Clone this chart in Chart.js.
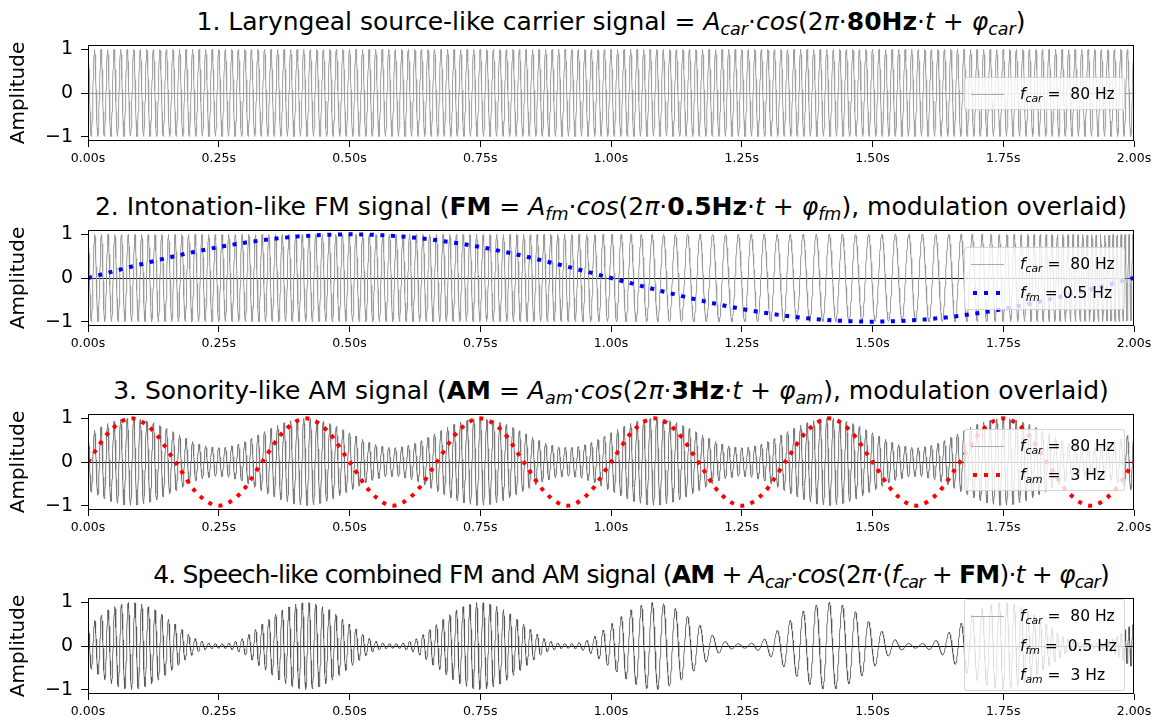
<!DOCTYPE html>
<html>
<head>
<meta charset="utf-8">
<script src="https://cdn.jsdelivr.net/npm/chart.js@4.4.1/dist/chart.umd.min.js"></script>
<style>
  body { margin: 0; background: #fff; font-family: "DejaVu Sans", sans-serif; }
  #fig { position: relative; width: 1157px; height: 724px; overflow: hidden; }
  .panel { position: absolute; left: 0; }
  .title { position: absolute; left: 40px; width: 1142px; height: 30px; line-height: 30px;
           text-align: center; font-size: 25px; color: #000; white-space: nowrap; }
  .title.tight { letter-spacing: -0.8px; left: 60px; }
  .title sub, .legend sub { font-size: 70%; vertical-align: -0.3em; line-height: 0; }
  .legend { position: absolute; left: 964px; width: 161px; background: rgba(255,255,255,0.8);
            border: 1px solid rgba(204,204,204,0.8); border-radius: 3px; box-sizing: border-box; }
  .row { position: absolute; left: 0; height: 22px; line-height: 22px; font-size: 15.5px; color: #000; white-space: nowrap; }
  .row .txt { position: absolute; left: 55px; }
  .handle { position: absolute; left: 6px; top: 11px; width: 33px; }
  .h-line { border-top: 1px solid #aaa; }
  .h-dots { height: 4px; top: 9px; left: 8px; width: 30px; }
</style>
</head>
<body>
<div id="fig"></div>
<script>
// ---- data ----
const xTickValues = [0, 0.25, 0.5, 0.75, 1, 1.25, 1.5, 1.75, 2];
const xTickLabels = ['0.00s', '0.25s', '0.50s', '0.75s', '1.00s', '1.25s', '1.50s', '1.75s', '2.00s'];
const yTickValues = [-1, 0, 1];
const yTickLabels = ['\u22121', '0', '1'];

const carrierHz = 80;   // f_car (legend)
const fmHz = 0.5;       // f_fm (legend)
const amHz = 3;         // f_am (legend)

// frequency of the FM carrier (panels 2 and 4), read from the cycle spacing
const fmCarTimes = [0, 0.5, 0.9, 1.0, 1.1, 1.2, 1.45, 1.65, 1.75, 1.85, 1.95, 2.0];
const fmCarHz = [78, 78, 76, 58, 45, 41, 40, 41, 68, 95, 125, 135];

// blue dotted FM curve (panel 2), every 0.1 s
const fmTimes = [0, 0.1, 0.2, 0.3, 0.4, 0.5, 0.6, 0.7, 0.8, 0.9, 1.0,
                 1.1, 1.2, 1.3, 1.4, 1.5, 1.6, 1.7, 1.8, 1.9, 2.0];
const fmValues = [0, 0.31, 0.59, 0.81, 0.95, 1.0, 0.95, 0.81, 0.59, 0.31, 0,
                  -0.31, -0.59, -0.81, -0.95, -1.0, -0.95, -0.81, -0.59, -0.31, 0];

// red dotted AM curve (panel 3), every 1/24 s
const amTimes = [0, 0.042, 0.083, 0.125, 0.167, 0.208, 0.25, 0.292,
                 0.333, 0.375, 0.417, 0.458, 0.5, 0.542, 0.583, 0.625,
                 0.667, 0.708, 0.75, 0.792, 0.833, 0.875, 0.917, 0.958,
                 1.0, 1.042, 1.083, 1.125, 1.167, 1.208, 1.25, 1.292,
                 1.333, 1.375, 1.417, 1.458, 1.5, 1.542, 1.583, 1.625,
                 1.667, 1.708, 1.75, 1.792, 1.833, 1.875, 1.917, 1.958, 2.0];
const amValues = [0, 0.71, 1, 0.71, 0, -0.71, -1, -0.71,
                  0, 0.71, 1, 0.71, 0, -0.71, -1, -0.71,
                  0, 0.71, 1, 0.71, 0, -0.71, -1, -0.71,
                  0, 0.71, 1, 0.71, 0, -0.71, -1, -0.71,
                  0, 0.71, 1, 0.71, 0, -0.71, -1, -0.71,
                  0, 0.71, 1, 0.71, 0, -0.71, -1, -0.71, 0];

// carrier envelopes at the same times (panel 3 and panel 4)
const env3Values = [0.67, 0.9, 1, 0.9, 0.67, 0.43, 0.33, 0.43,
                    0.67, 0.9, 1, 0.9, 0.67, 0.43, 0.33, 0.43,
                    0.67, 0.9, 1, 0.9, 0.67, 0.43, 0.33, 0.43,
                    0.67, 0.9, 1, 0.9, 0.67, 0.43, 0.33, 0.43,
                    0.67, 0.9, 1, 0.9, 0.67, 0.43, 0.33, 0.43,
                    0.67, 0.9, 1, 0.9, 0.67, 0.43, 0.33, 0.43, 0.67];
const env4Values = [0.5, 0.85, 1, 0.85, 0.5, 0.15, 0.05, 0.15,
                    0.5, 0.85, 1, 0.85, 0.5, 0.15, 0.05, 0.15,
                    0.5, 0.85, 1, 0.85, 0.5, 0.15, 0.05, 0.15,
                    0.5, 0.85, 1, 0.85, 0.5, 0.15, 0.05, 0.15,
                    0.5, 0.85, 1, 0.85, 0.5, 0.15, 0.05, 0.15,
                    0.5, 0.85, 1, 0.85, 0.5, 0.15, 0.05, 0.15, 0.5];

const titles = [
  '1. Laryngeal source-like carrier signal = <i>A<sub>car</sub></i>\u00b7<i>cos</i>(2<i>\u03c0</i>\u00b7<b>80Hz</b>\u00b7<i>t</i> + <i>\u03c6<sub>car</sub></i>)',
  '2. Intonation-like FM signal (<b>FM</b> = <i>A<sub>fm</sub></i>\u00b7<i>cos</i>(2<i>\u03c0</i>\u00b7<b>0.5Hz</b>\u00b7<i>t</i> + <i>\u03c6<sub>fm</sub></i>), modulation overlaid)',
  '3. Sonority-like AM signal (<b>AM</b> = <i>A<sub>am</sub></i>\u00b7<i>cos</i>(2<i>\u03c0</i>\u00b7<b>3Hz</b>\u00b7<i>t</i> + <i>\u03c6<sub>am</sub></i>), modulation overlaid)',
  '4. Speech-like combined FM and AM signal (<b>AM</b> + <i>A<sub>car</sub></i>\u00b7<i>cos</i>(2<i>\u03c0</i>\u00b7(<i>f<sub>car</sub></i> + <b>FM</b>)\u00b7<i>t</i> + <i>\u03c6<sub>car</sub></i>)'
];
const legendCar = '<i>f<sub>car</sub></i> =&nbsp; ' + carrierHz + ' Hz';
const legendFm = '<i>f<sub>fm</sub></i> = ' + fmHz + ' Hz';
const legendFm4 = '<i>f<sub>fm</sub></i> =&nbsp; ' + fmHz + ' Hz';
const legendAm = '<i>f<sub>am</sub></i> =&nbsp; ' + amHz + ' Hz';

// ---- layout ----
const panelTops = [45, 230, 414, 598];
const panelH = 96;
const padTop = 6;
const font = 'DejaVu Sans';

// smooth reading between the read samples
function readAt(times, values, t) {
  let i = 0;
  while (i < times.length - 2 && t > times[i + 1]) i++;
  const u = (t - times[i]) / (times[i + 1] - times[i]);
  const p0 = values[Math.max(i - 1, 0)], p1 = values[i], p2 = values[i + 1];
  const p3 = values[Math.min(i + 2, values.length - 1)];
  return 0.5 * (2 * p1 + (-p0 + p2) * u + (2 * p0 - 5 * p1 + 4 * p2 - p3) * u * u +
                (-p0 + 3 * p1 - 3 * p2 + p3) * u * u * u);
}

// carrier tables for the library
const nSamples = 4000;
const dt = 2 / nSamples;
const car1 = [], car2 = [], car3 = [], car4 = [];
let fmPhase = 0;
for (let k = 0; k <= nSamples; k++) {
  const t = k * dt;
  const plain = Math.cos(2 * Math.PI * carrierHz * t);
  const fmed = Math.cos(fmPhase);
  fmPhase += 2 * Math.PI * readAt(fmCarTimes, fmCarHz, t + dt / 2) * dt;
  car1.push({ x: t, y: plain });
  car2.push({ x: t, y: fmed });
  car3.push({ x: t, y: readAt(amTimes, env3Values, t) * plain });
  car4.push({ x: t, y: readAt(amTimes, env4Values, t) * fmed });
}
const fmPoints = fmTimes.map((t, i) => ({ x: t, y: fmValues[i] }));
const amPoints = amTimes.map((t, i) => ({ x: t, y: amValues[i] }));

const framePlugin = {
  id: 'frame',
  afterDraw(chart) {
    const a = chart.chartArea, ctx = chart.ctx;
    ctx.save();
    ctx.strokeStyle = '#000';
    ctx.lineWidth = 1;
    ctx.strokeRect(Math.round(a.left) + 0.5, Math.round(a.top) + 0.5,
                   Math.round(a.right - a.left) - 1, Math.round(a.bottom - a.top) - 1);
    ctx.restore();
  }
};

function carrierSet(data, color, width) {
  return { data: data, borderColor: color, borderWidth: width, pointRadius: 0, tension: 0, order: 2 };
}
function dottedSet(data, color) {
  return { data: data, borderColor: color, borderWidth: 4, borderDash: [4, 6.6], pointRadius: 0,
           cubicInterpolationMode: 'monotone', order: 1 };
}

const panels = [
  { datasets: [carrierSet(car1, '#a0a0a0', 1)], zero: '#9a9a9a',
    legend: { top: 32, h: 33, rows: [[legendCar, 'line']] } },
  { datasets: [dottedSet(fmPoints, '#0000ff'), carrierSet(car2, '#9a9a9a', 1)], zero: '#000',
    legend: { top: 17, h: 63, rows: [[legendCar, 'line'], [legendFm, 'blue']] } },
  { datasets: [dottedSet(amPoints, '#ff0000'), carrierSet(car3, '#7a7a7a', 1)], zero: '#000',
    legend: { top: 15, h: 62, rows: [[legendCar, 'line'], [legendAm, 'red']] } },
  { datasets: [carrierSet(car4, '#505050', 0.8)], zero: '#000',
    legend: { top: 1, h: 92, rows: [[legendCar, 'line'], [legendFm4, null], [legendAm, null]] } }
];

const fig = document.getElementById('fig');

panels.forEach(function (p, idx) {
  const top = panelTops[idx];

  const title = document.createElement('div');
  title.className = idx === 3 ? 'title tight' : 'title';
  title.style.top = (top - 38) + 'px';
  title.innerHTML = titles[idx];
  fig.appendChild(title);

  const canvas = document.createElement('canvas');
  canvas.className = 'panel';
  canvas.width = 1157;
  canvas.height = padTop + panelH + 30;
  canvas.style.top = (top - padTop) + 'px';
  fig.appendChild(canvas);

  new Chart(canvas, {
    type: 'line',
    data: { datasets: p.datasets },
    options: {
      responsive: false,
      animation: false,
      events: [],
      parsing: false,
      layout: { padding: { top: padTop, right: 23, bottom: 0, left: 0 } },
      plugins: { legend: { display: false }, tooltip: { enabled: false } },
      scales: {
        x: {
          type: 'linear', min: 0, max: 2,
          afterBuildTicks: s => { s.ticks = xTickValues.map(v => ({ value: v })); },
          afterFit: s => { s.height = 30; s.paddingLeft = 0; s.paddingRight = 0; },
          ticks: { callback: (v, i) => xTickLabels[i], font: { family: font, size: 12.5 }, color: '#000',
                   padding: 4, maxRotation: 0, autoSkip: false },
          grid: { drawOnChartArea: false, tickLength: 6, tickColor: '#000', tickWidth: 1 },
          border: { display: false }
        },
        y: {
          type: 'linear', min: -1.1, max: 1.1,
          afterBuildTicks: s => { s.ticks = yTickValues.map(v => ({ value: v })); },
          afterFit: s => { s.width = 88; s.paddingTop = 0; s.paddingBottom = 0; },
          ticks: { callback: (v, i) => yTickLabels[i], font: { family: font, size: 19 }, color: '#000', padding: 8 },
          grid: { drawOnChartArea: true, lineWidth: 1, tickLength: 7, tickColor: '#000',
                  color: c => (c.tick && c.tick.value === 0) ? p.zero : 'rgba(0,0,0,0)' },
          border: { display: false },
          title: { display: true, text: 'Amplitude', color: '#000', font: { family: font, size: 20 },
                   padding: { top: 7, bottom: 0 } }
        }
      }
    },
    plugins: [framePlugin]
  });

  // legend box
  const lg = document.createElement('div');
  lg.className = 'legend';
  lg.style.top = (top + p.legend.top) + 'px';
  lg.style.height = p.legend.h + 'px';
  const rowGap = p.legend.rows.length === 3 ? 29.5 : 29;
  p.legend.rows.forEach(function (r, j) {
    const row = document.createElement('div');
    row.className = 'row';
    row.style.top = (5 + j * rowGap) + 'px';
    let handle = '';
    if (r[1] === 'line') handle = '<div class="handle h-line"></div>';
    if (r[1] === 'blue' || r[1] === 'red') {
      const c = r[1] === 'blue' ? '#0000ff' : '#ff0000';
      handle = '<div class="handle h-dots" style="background:repeating-linear-gradient(to right,' + c +
               ' 0 4px, transparent 4px 11.5px)"></div>';
    }
    row.innerHTML = handle + '<span class="txt">' + r[0] + '</span>';
    lg.appendChild(row);
  });
  fig.appendChild(lg);
});
</script>
</body>
</html>
